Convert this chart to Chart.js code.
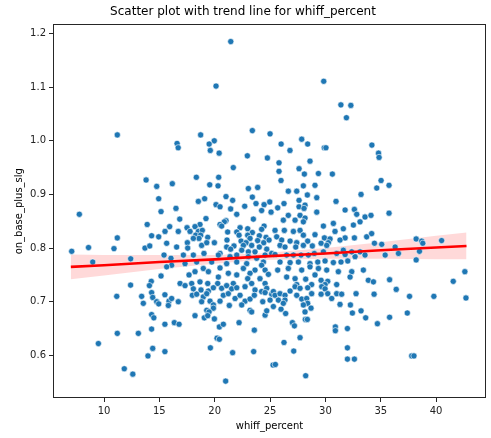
<!DOCTYPE html>
<html>
<head>
<meta charset="utf-8">
<script src="https://cdn.jsdelivr.net/npm/chart.js@4"></script>
<style>
	html, body { margin: 0; padding: 0; background: #fff; }
	#wrap { width: 491px; height: 438px; }
</style>
</head>
<body>
<div id="wrap"><canvas id="chart" width="491" height="438"></canvas></div>
<script>
(function () {
	'use strict';

	// [whiff_percent, on_base_plus_slg]
	var players = [
		[11.2,1.011],[21.45,1.185],[20.12,1.102],[18.73,1.011],[23.4,1.019],[25.0,1.013],[16.6,0.995],[16.7,0.987],[19.96,1.0],[19.5,0.994],
		[19.6,0.982],[20.4,0.977],[29.85,1.111],[31.4,1.067],[32.3,1.066],[31.9,1.043],[27.86,1.003],[26.0,0.994],[28.4,0.994],[26.8,0.982],
		[29.9,0.987],[30.05,0.987],[34.2,0.992],[34.8,0.977],

		[13.8,0.927],[14.76,0.915],[14.94,0.892],[7.77,0.863],[15.15,0.868],[13.9,0.844],[14.3,0.823],[14.94,0.821],[11.2,0.819],[7.08,0.794],
		[8.6,0.801],[10.9,0.799],[13.7,0.8],[14.13,0.804],[8.98,0.774],[12.41,0.78],[15.42,0.787],[15.15,0.748],[14.27,0.738],[12.4,0.731],
		[14.1,0.73],[11.15,0.71],[13.4,0.71],[14.3,0.717],[14.4,0.708],[13.55,0.697],[14.76,0.7],[14.94,0.696],[14.3,0.676],[14.5,0.67],
		[15.5,0.713],[14.3,0.649],[11.2,0.641],[13.1,0.641],[15.5,0.658],[9.49,0.622],[14.4,0.613],[13.97,0.599],[15.5,0.607],[11.83,0.575],
		[12.6,0.565],

		[35.75,0.917],[35.75,0.865],[38.2,0.817],[38.7,0.813],[38.8,0.809],[40.5,0.814],[36.3,0.802],[35.4,0.787],[36.6,0.79],[38.5,0.794],
		[38.2,0.778],[35.8,0.741],[41.55,0.738],[42.6,0.756],[36.4,0.723],[37.6,0.71],[39.8,0.71],[42.7,0.707],[35.8,0.671],[37.4,0.679],
		[37.8,0.599],[38.0,0.599],

		[22.95,0.972],[24.76,0.968],[21.68,0.95],[18.34,0.932],[20.36,0.932],[19.55,0.918],[20.3,0.916],[16.17,0.92],[23.04,0.911],[23.88,0.913],
		[21.02,0.896],[19.09,0.892],[18.52,0.887],[21.62,0.889],[23.4,0.895],[23.73,0.883],[24.46,0.881],[24.97,0.886],[20.12,0.881],[20.48,0.877],
		[22.71,0.878],[16.5,0.874],[21.44,0.873],[21.99,0.863],[24.24,0.87],[25.09,0.867],[19.21,0.855],[16.84,0.854],[21.02,0.851],[20.87,0.849],
		[18.67,0.844],[20.48,0.844],[20.63,0.841],[18.22,0.84],[23.49,0.854],[24.46,0.841],[22.29,0.838],[15.93,0.84],[15.51,0.831],[16.71,0.831],
		[17.5,0.838],[17.77,0.831],[18.52,0.831],[18.88,0.833],[22.98,0.836],[24.24,0.835],[23.4,0.829],[18.28,0.824],[18.73,0.824],[19.37,0.82],
		[21.17,0.83],[21.99,0.83],[22.2,0.824],[22.98,0.824],[24.03,0.823],[24.64,0.82],[23.19,0.818],[18.58,0.818],[18.07,0.818],[17.53,0.81],
		[18.82,0.805],[19.28,0.81],[19.97,0.81],[21.11,0.815],[22.38,0.813],[22.83,0.81],[23.88,0.814],[24.43,0.81],[24.91,0.815],[15.66,0.809],
		[16.56,0.802],[17.56,0.8],[21.08,0.802],[21.74,0.804],[22.59,0.805],[23.34,0.805],[24.03,0.802],[24.7,0.798],[20.48,0.79],[21.44,0.798],
		[22.44,0.796],[23.04,0.793],[23.64,0.793],[24.55,0.787],[25.15,0.79],[17.17,0.787],[18.07,0.787],[16.05,0.781],[19.03,0.79],[20.33,0.787],
		[21.38,0.784],[21.99,0.787],[23.04,0.784],[23.79,0.781],[24.4,0.774],[18.37,0.774],[17.32,0.771],[19.73,0.774],[21.08,0.771],[21.99,0.774],
		[22.89,0.771],[24.24,0.768],[16.11,0.768],[15.66,0.765],[18.97,0.762],[20.48,0.763],[22.59,0.762],[23.64,0.759],[24.55,0.759],[18.22,0.756],
		[19.43,0.756],[21.23,0.753],[21.99,0.75],[23.19,0.753],[24.85,0.751],[17.68,0.75],[20.33,0.746],[22.98,0.743],[24.09,0.743],[16.87,0.734],
		[17.92,0.734],[18.67,0.737],[19.37,0.734],[20.27,0.734],[21.68,0.734],[23.34,0.734],[24.55,0.734],

		[28.61,0.962],[25.81,0.959],[25.81,0.943],[27.62,0.948],[28.1,0.938],[29.37,0.939],[30.63,0.938],[34.85,0.969],[34.64,0.912],[35.03,0.926],
		[25.99,0.926],[29.06,0.917],[28.01,0.916],[26.65,0.906],[27.41,0.906],[28.37,0.899],[29.22,0.894],[33.22,0.9],[30.96,0.887],[26.26,0.883],
		[25.69,0.875],[27.62,0.889],[27.62,0.877],[28.16,0.88],[28.07,0.874],[29.22,0.867],[31.78,0.871],[32.62,0.872],[32.83,0.863],[33.58,0.858],
		[34.12,0.861],[26.65,0.861],[27.71,0.861],[28.16,0.856],[26.2,0.852],[27.26,0.852],[28.01,0.849],[29.82,0.841],[30.72,0.846],[31.62,0.836],
		[32.53,0.843],[33.13,0.849],[25.45,0.833],[26.29,0.833],[27.11,0.831],[27.71,0.833],[29.06,0.825],[28.01,0.824],[30.87,0.831],[29.91,0.819],
		[30.42,0.817],[31.78,0.819],[32.62,0.819],[33.73,0.821],[34.18,0.827],[25.6,0.821],[26.05,0.815],[26.81,0.813],[27.41,0.81],[28.4,0.813],
		[30.27,0.81],[29.61,0.809],[31.32,0.815],[34.43,0.809],[35.09,0.807],[25.9,0.805],[26.35,0.802],[27.32,0.802],[28.01,0.805],[28.82,0.804],
		[30.12,0.805],[31.62,0.796],[33.13,0.793],[33.58,0.787],[32.68,0.784],[25.45,0.788],[26.5,0.787],[27.11,0.787],[27.8,0.787],[28.46,0.787],
		[29.0,0.79],[29.82,0.793],[31.02,0.79],[31.78,0.788],[32.38,0.793],[25.9,0.774],[26.81,0.773],[27.56,0.774],[28.61,0.771],[29.31,0.774],
		[29.97,0.776],[30.72,0.773],[31.41,0.774],[32.02,0.776],[25.69,0.759],[26.65,0.762],[27.86,0.759],[28.61,0.765],[29.37,0.762],[30.12,0.759],
		[31.17,0.756],[32.38,0.756],[33.43,0.759],[26.5,0.746],[27.26,0.743],[28.22,0.742],[29.06,0.75],[29.61,0.74],[30.21,0.738],[32.23,0.746],
		[33.88,0.74],[34.34,0.737],[27.41,0.732],[28.76,0.732],[29.97,0.732],[31.02,0.732],

		[17.32,0.73],[18.07,0.724],[18.76,0.722],[19.43,0.72],[19.88,0.726],[20.63,0.725],[21.08,0.73],[21.53,0.724],[21.99,0.726],[22.74,0.728],
		[23.64,0.722],[24.24,0.719],[24.7,0.725],[25.15,0.714],[15.87,0.701],[15.81,0.693],[16.71,0.7],[16.11,0.706],[17.98,0.712],[18.37,0.714],
		[18.97,0.709],[19.28,0.715],[18.82,0.7],[19.58,0.701],[19.88,0.694],[20.48,0.701],[20.78,0.712],[21.23,0.715],[21.84,0.706],[22.29,0.712],
		[22.74,0.701],[23.19,0.705],[23.58,0.712],[24.55,0.717],[24.34,0.7],[25.0,0.703],[25.3,0.719],[19.28,0.684],[19.88,0.688],[19.49,0.681],
		[19.06,0.67],[19.37,0.674],[19.97,0.668],[18.22,0.674],[21.32,0.693],[22.44,0.694],[23.19,0.684],[23.34,0.681],[24.55,0.675],[24.7,0.683],
		[25.3,0.691],[16.35,0.661],[16.78,0.658],[20.42,0.653],[20.78,0.658],[22.2,0.661],[23.58,0.647],[20.21,0.632],[20.42,0.63],[19.61,0.614],
		[21.62,0.605],[23.52,0.607],[25.27,0.582],[20.99,0.552],

		[25.45,0.712],[25.9,0.715],[26.35,0.712],[26.81,0.72],[25.75,0.703],[26.35,0.703],[26.2,0.697],[25.99,0.686],[26.41,0.678],[27.26,0.728],
		[27.71,0.725],[28.4,0.726],[28.76,0.715],[27.41,0.712],[27.86,0.705],[28.31,0.706],[28.4,0.697],[28.01,0.694],[28.7,0.688],[28.16,0.681],
		[28.19,0.667],[28.37,0.667],[27.02,0.661],[27.2,0.655],[29.67,0.728],[29.97,0.724],[29.61,0.714],[30.21,0.715],[30.57,0.706],[31.02,0.715],
		[31.47,0.714],[31.32,0.695],[32.26,0.694],[32.44,0.679],[33.22,0.683],[33.64,0.67],[32.77,0.715],[34.4,0.714],[34.7,0.659],[30.9,0.653],
		[30.9,0.646],[31.99,0.65],[31.99,0.614],[31.99,0.593],[32.62,0.593],[26.26,0.624],[27.14,0.608],[27.71,0.633],[28.22,0.562],[25.48,0.583]
	];

	// regression line and its confidence band, read at a few x positions
	var trendWhiff = [7.0, 10, 15, 20, 24, 30, 35, 40, 42.75];
	var trendOps = [0.765, 0.768, 0.774, 0.779, 0.784, 0.790, 0.796, 0.801, 0.804];
	var bandLow = [0.742, 0.749, 0.761, 0.771, 0.778, 0.780, 0.780, 0.779, 0.779];
	var bandHigh = [0.788, 0.787, 0.787, 0.787, 0.790, 0.800, 0.811, 0.823, 0.829];

	var xTicks = [10, 15, 20, 25, 30, 35, 40];
	var yTicks = [0.6, 0.7, 0.8, 0.9, 1.0, 1.1, 1.2];

	Chart.defaults.font.family = "'DejaVu Sans', sans-serif";
	Chart.defaults.font.size = 10;
	Chart.defaults.color = '#222';

	function pairs(xs, ys) {
		return xs.map(function (x, i) { return { x: x, y: ys[i] }; });
	}

	var frame = {
		id: 'frame',
		afterDatasetsDraw: function (chart) {
			var a = chart.chartArea, c = chart.ctx;
			c.save();
			c.strokeStyle = '#262626';
			c.lineWidth = 1;
			c.strokeRect(Math.round(a.left) + 0.5, Math.round(a.top) + 0.5,
				Math.round(a.right - a.left) - 1, Math.round(a.bottom - a.top) - 1);
			c.restore();
		}
	};

	var tickGrid = { drawOnChartArea: false, tickLength: 4, color: '#262626', lineWidth: 1 };

	new Chart(document.getElementById('chart'), {
		type: 'scatter',
		data: {
			datasets: [{
				type: 'line',
				data: pairs(trendWhiff, bandLow),
				borderColor: 'rgba(0,0,0,0)',
				pointRadius: 0,
				fill: false,
				order: 3
			}, {
				type: 'line',
				data: pairs(trendWhiff, bandHigh),
				borderColor: 'rgba(0,0,0,0)',
				backgroundColor: 'rgba(255,0,0,0.15)',
				pointRadius: 0,
				fill: '-1',
				order: 2
			}, {
				data: players.map(function (p) { return { x: p[0], y: p[1] }; }),
				backgroundColor: '#1f77b4',
				borderColor: '#ffffff',
				borderWidth: 0.6,
				pointRadius: 3.1,
				order: 1
			}, {
				type: 'line',
				data: pairs(trendWhiff, trendOps),
				borderColor: '#ff0000',
				borderWidth: 2.6,
				pointRadius: 0,
				fill: false,
				order: 0
			}]
		},
		options: {
			responsive: false,
			animation: false,
			layout: { padding: { left: 0, right: 5, top: 0, bottom: 0 } },
			plugins: {
				legend: { display: false },
				tooltip: { enabled: false },
				title: {
					display: true,
					text: 'Scatter plot with trend line for whiff_percent',
					color: '#000',
					font: { size: 12, weight: 'normal' },
					padding: { top: 5, bottom: 5 }
				}
			},
			scales: {
				x: {
					type: 'linear',
					min: 5.39,
					max: 44.51,
					afterBuildTicks: function (s) { s.ticks = xTicks.map(function (v) { return { value: v }; }); },
					afterFit: function (s) { s.height = 40; },
					ticks: { padding: 3, maxRotation: 0, callback: function (v) { return String(v); } },
					grid: tickGrid,
					border: { display: false },
					title: { display: true, text: 'whiff_percent', color: '#000', font: { size: 10 }, padding: { top: 0, bottom: 6 } }
				},
				y: {
					type: 'linear',
					min: 0.5205,
					max: 1.217,
					afterBuildTicks: function (s) { s.ticks = yTicks.map(function (v) { return { value: v }; }); },
					afterFit: function (s) { s.width = 53; },
					ticks: { padding: 3, callback: function (v) { return v.toFixed(1); } },
					grid: tickGrid,
					border: { display: false },
					title: { display: true, text: 'on_base_plus_slg', color: '#000', font: { size: 10 }, padding: { top: 13, bottom: 0 } }
				}
			}
		},
		plugins: [frame]
	});
})();
</script>
</body>
</html>
